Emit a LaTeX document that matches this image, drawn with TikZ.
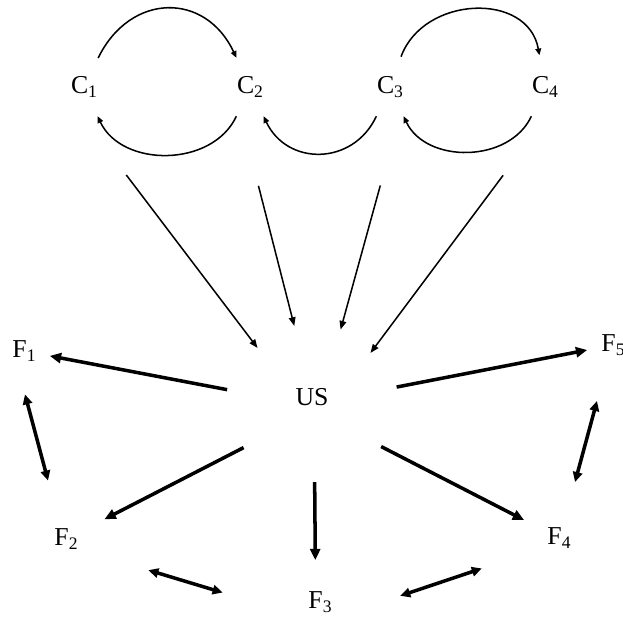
\documentclass[tikz,border=0pt]{standalone}
\usepackage{fontspec}
\setmainfont{Liberation Serif}
\usetikzlibrary{arrows.meta}
\newcommand{\lowidx}[1]{\raisebox{-4pt}{\fontsize{15}{15}\selectfont #1}}

\begin{document}
\begin{tikzpicture}[x=0.03cm,y=0.03cm,line join=round]
	\tikzset{every node/.style={font=\fontsize{22}{24}\selectfont,inner sep=0pt}}
	\tikzset{cnode/.style={circle,minimum size=1.92cm},
		fnode/.style={circle,minimum size=1.56cm},
		usnode/.style={circle,minimum size=4.38cm},
		swap/.style={line width=1.3pt,-{Triangle[length=0.2cm,width=0.17cm]}},
		feed/.style={line width=1.3pt,-{Triangle[length=0.26cm,width=0.2cm]},shorten <=2.1cm},
		push/.style={line width=3pt,-{Triangle[length=0.34cm,width=0.3cm]},shorten <=0.36cm},
		mutual/.style={line width=3pt,{Triangle[length=0.3cm,width=0.28cm]}-{Triangle[length=0.3cm,width=0.28cm]}}}
	\useasboundingbox (0,0) rectangle (623,-621);
	\foreach \i/\x in {1/84,2/250,3/390,4/545}
	\node[cnode] (C\i) at (\x,-87) {C\lowidx{\i}};
	\node[usnode] (US) at (312,-397) {US};
	\foreach \i/\x/\y in {1/24/351,2/66/539,3/320/602,4/559/538,5/613/345}
	\node[fnode] (F\i) at (\x,-\y) {F\lowidx{\i}};
	% loops between the C's
	\draw[swap] (C1) to[out=64,in=115,looseness=1.35] (C2);
	\draw[swap] (C3) to[out=70,in=100,looseness=1.2] (C4);
	\draw[swap] (C2) to[out=245,in=295,looseness=1.05] (C1);
	\draw[swap] (C3) to[out=245,in=295,looseness=1.25] (C2);
	\draw[swap] (C4) to[out=245,in=295,looseness=1.05] (C3);
	\foreach \c/\a/\u in {1/270/138,2/254/104,3/286/67,4/270/37}
	\draw[feed] (C\c.\a) -- (US.\u);
	\foreach \f/\u/\s in {1/176/0,2/218/0.51,4/323/0.39,5/6/0}
	\draw[push,shorten >=\s cm] (US.\u) -- (F\f);
	\draw[push,shorten >=0.48cm] (US.272) -- (F3.100);
	\draw[mutual,shorten <=0.54cm,shorten >=1.05cm] (F1.262) -- (F2.110);
	\draw[mutual,shorten <=1.87cm,shorten >=2.34cm] (F2.330) -- (F3.210);
	\draw[mutual,shorten <=1.82cm,shorten >=1.71cm] (F3.330) -- (F4.208);
	\draw[mutual,shorten <=0.96cm,shorten >=0.96cm] (F4.73) -- (F5.253);
\end{tikzpicture}
\end{document}
